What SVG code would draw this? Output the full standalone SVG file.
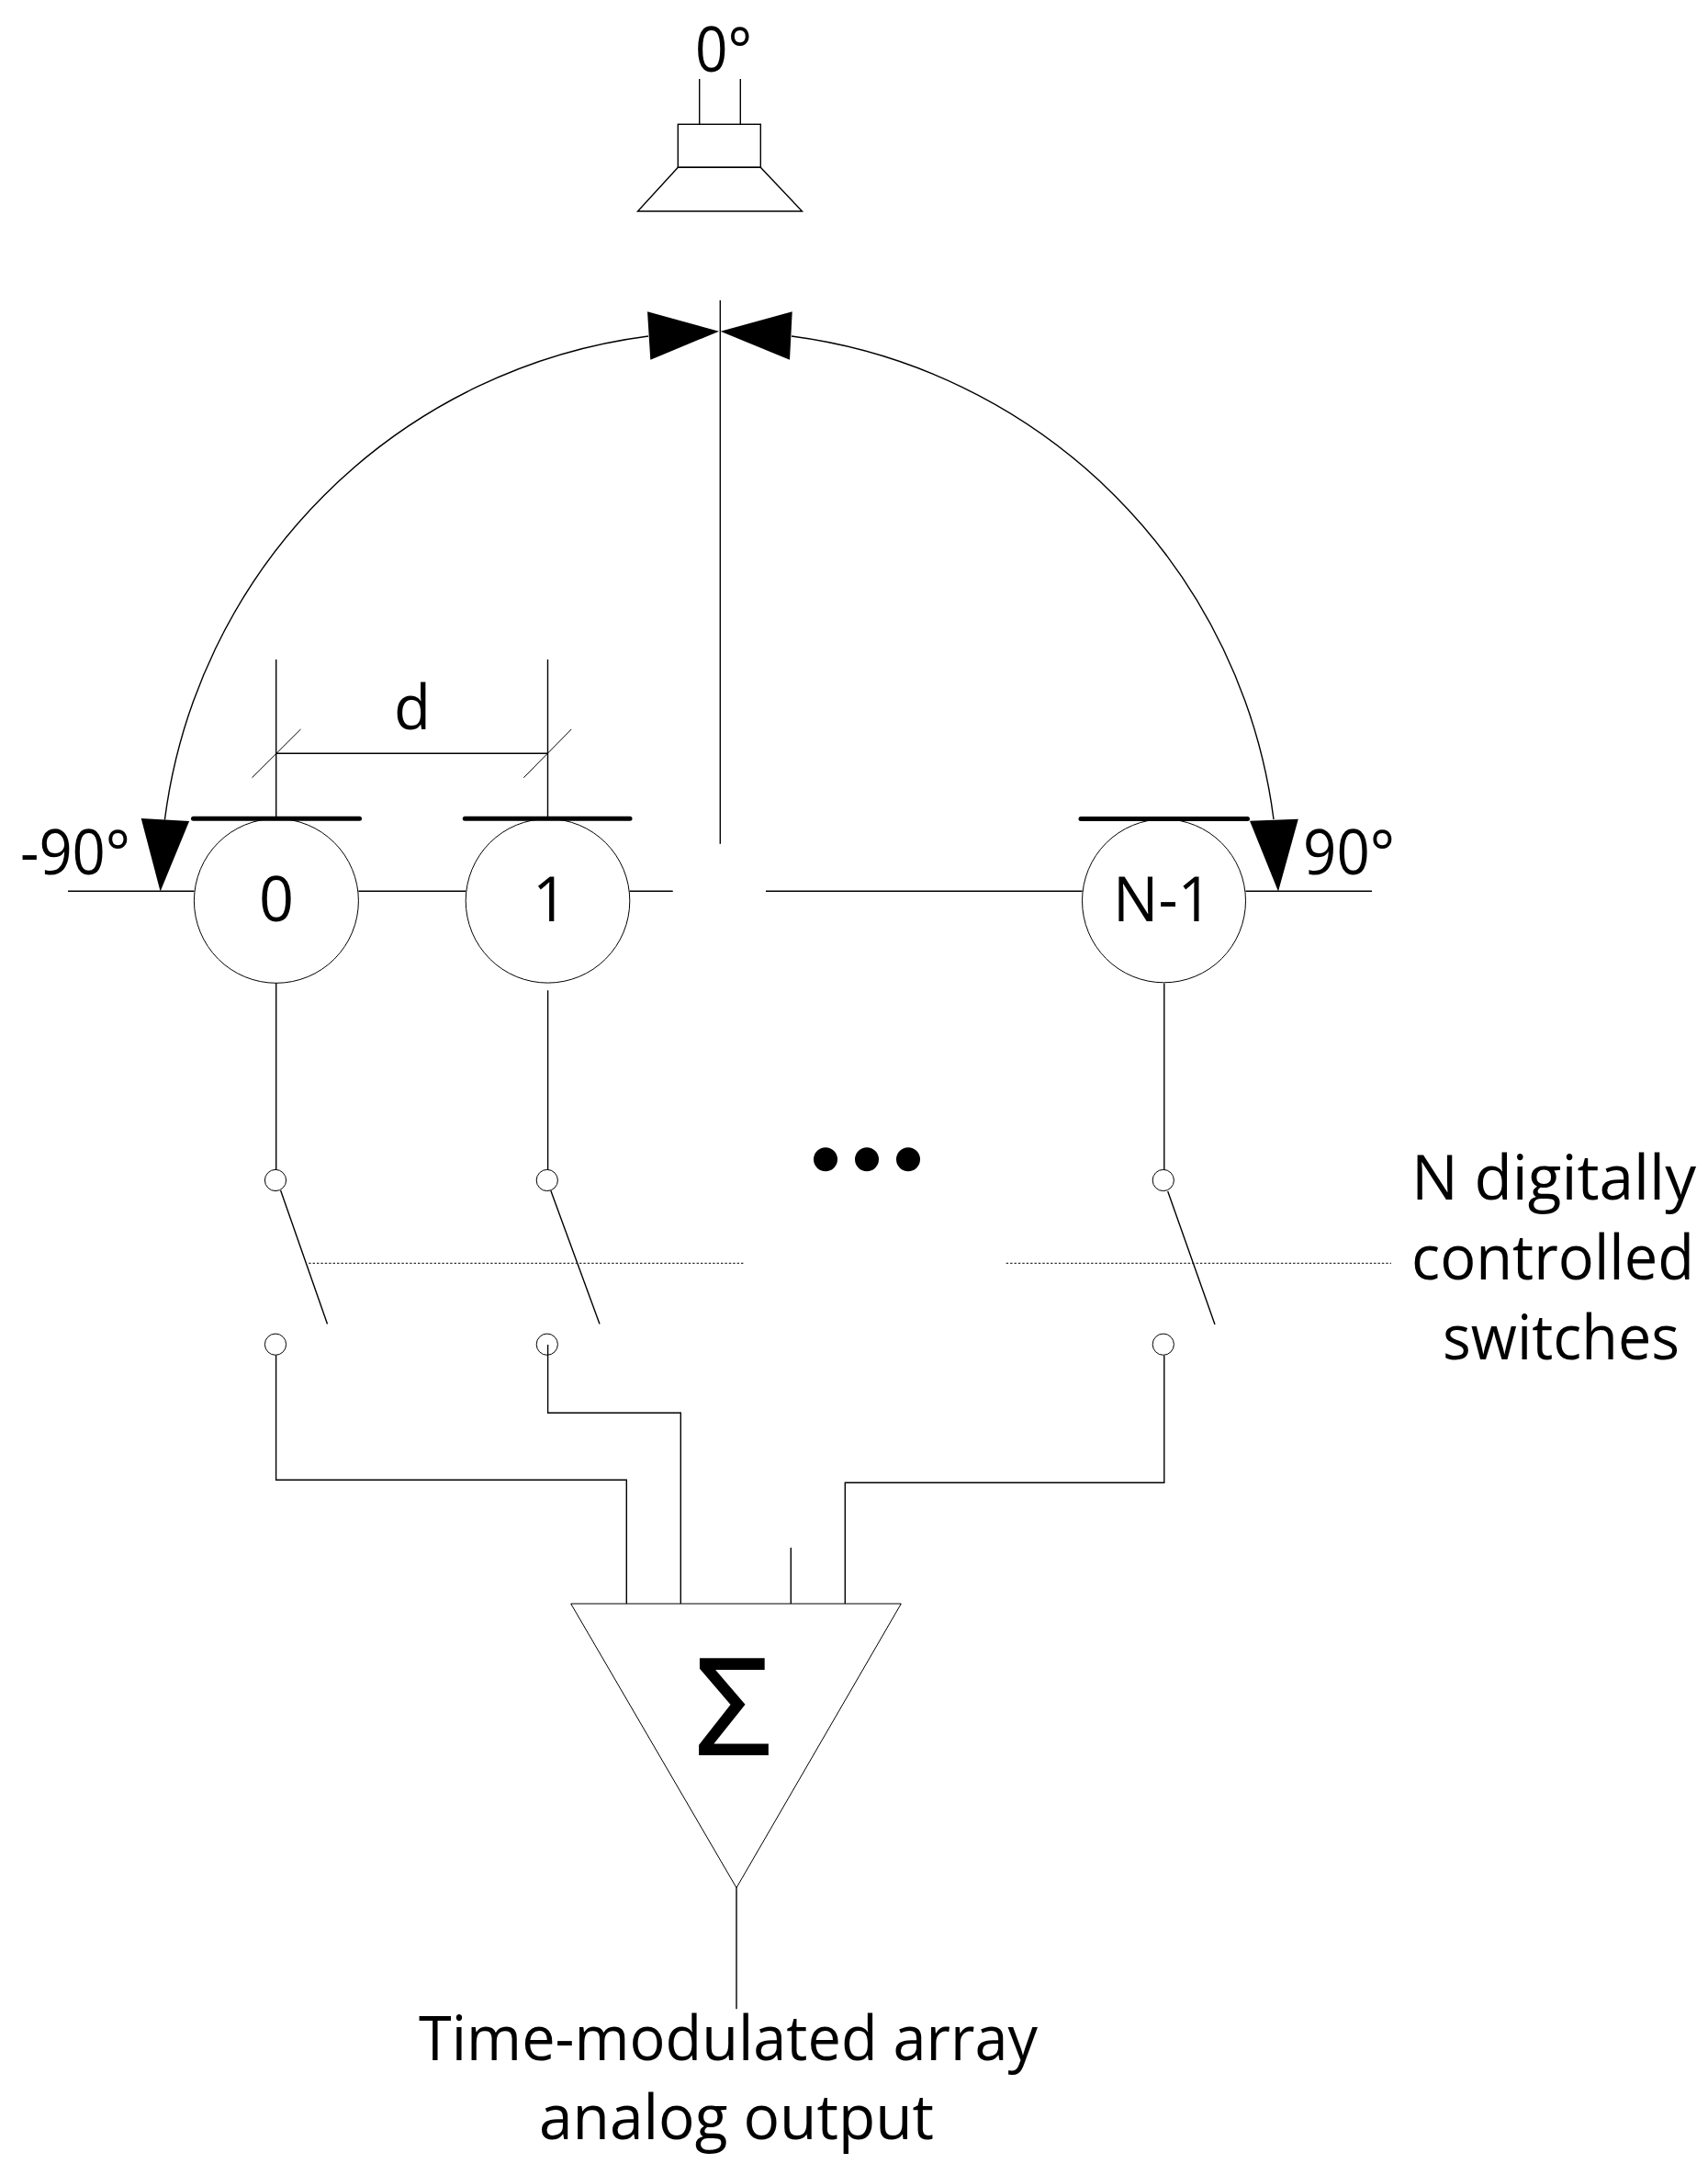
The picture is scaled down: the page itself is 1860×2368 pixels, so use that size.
<svg xmlns="http://www.w3.org/2000/svg" width="1860" height="2368" viewBox="0 0 1860 2368">
<style>
.w{fill:none;stroke:#000;stroke-width:1.4}
.t{fill:none;stroke:#000;stroke-width:1}
.b{fill:none;stroke:#000;stroke-width:5;stroke-linecap:round}
.d{fill:none;stroke:#000;stroke-width:1;stroke-dasharray:2.4 2}
.k{fill:#000;stroke:none}
text{font-family:"Open Sans","Noto Sans","Liberation Sans",sans-serif;font-size:67px;fill:#000}
.s{font-size:145px;stroke:#000;stroke-width:2}
</style>
<rect width="1860" height="2368" fill="#fff"/>
<g id="connectors">
<path class="w" d="M706 366A609 609 0 0 0 179.4 892.7"/>
<path class="w" d="M862 366A609 609 0 0 1 1387 892"/>
<polygon class="k" points="705,339.3 708.3,391.7 783,360.7"/>
<polygon class="k" points="862.7,339.3 860,391.7 784.6,360.7"/>
<polygon class="k" points="153.7,891 206.1,894 174.6,970.5"/>
<polygon class="k" points="1361,893.8 1413.8,891.7 1392,970.5"/>
<path class="w" d="M784.3 327V918.7"/>
<path class="w" d="M74 970.3H211.4M390.4 970.3H507.3M685.7 970.3H732.7M834 970.3H1178.6M1356.5 970.3H1494"/>
<path class="w" d="M300.7 718V891M596.5 718V891M300.7 820.3H596.5"/>
<path class="t" d="M274.5 846.7L327.4 794M570.3 846.7L622.2 794"/>
<path class="w" d="M300.7 1070V1273.5M596.6 1078.3V1273.5M1267.8 1070.5V1273.5"/>
<path class="w" d="M305.6 1296L356.5 1441.5M599.8 1296.3L653 1441.5M1271.7 1297L1323 1442"/>
<path class="d" d="M336.2 1375.3H810M1095.7 1375.3H1515"/>
<path class="w" d="M300.6 1475.5V1611.3H682.3V1746"/>
<path class="w" d="M596.6 1464V1538.3H741.3V1746"/>
<path class="w" d="M1267.8 1475.7V1614.3H920.3V1746"/>
<path class="w" d="M861.3 1685V1746"/>
<path class="w" d="M802 2055.3V2187.3"/>
</g>
<g id="speaker">
<path class="w" d="M761.7 86V135.3M806.3 86V135.3"/>
<rect class="w" x="738.3" y="135.3" width="90" height="47"/>
<polygon class="w" points="738.3,182.3 828.3,182.3 873.5,230 694.5,230"/>
<text x="757" y="78" textLength="62" lengthAdjust="spacingAndGlyphs">0°</text>
</g>
<g id="element-0">
<circle class="t" cx="300.9" cy="980.8" r="89.5"/>
<path class="b" d="M210.5 891.3H391.5"/>
<text x="282" y="1002.5" textLength="38" lengthAdjust="spacingAndGlyphs">0</text>
</g>
<g id="element-1">
<circle class="t" cx="596.5" cy="980.8" r="89.3"/>
<path class="b" d="M506.3 891.3H686"/>
<text x="580" y="1002.5" textLength="38" lengthAdjust="spacingAndGlyphs">1</text>
</g>
<g id="element-n">
<circle class="t" cx="1267.5" cy="980.8" r="89"/>
<path class="b" d="M1177 891.5H1358.5"/>
<text x="1212" y="1003" textLength="108" lengthAdjust="spacingAndGlyphs">N-1</text>
</g>
<g id="switch-0">
<circle class="t" cx="300" cy="1285" r="11.6"/>
<circle class="t" cx="300" cy="1463.7" r="11.6"/>
</g>
<g id="switch-1">
<circle class="t" cx="595.8" cy="1285" r="11.6"/>
<circle class="t" cx="595.8" cy="1463.7" r="11.6"/>
</g>
<g id="switch-n">
<circle class="t" cx="1266.8" cy="1285" r="11.6"/>
<circle class="t" cx="1266.8" cy="1463.7" r="11.6"/>
</g>
<g id="ellipsis">
<circle class="k" cx="899" cy="1262.3" r="13"/>
<circle class="k" cx="944" cy="1262.3" r="13"/>
<circle class="k" cx="989" cy="1262.3" r="13"/>
</g>
<g id="summer">
<polygon class="t" points="621.7,1746 981.3,1746 802,2055.3"/>
<text class="s" x="757" y="1910">Σ</text>
</g>
<g id="labels">
<text x="429" y="794" textLength="40" lengthAdjust="spacingAndGlyphs">d</text>
<text x="22" y="952" textLength="120" lengthAdjust="spacingAndGlyphs">-90°</text>
<text x="1419" y="952" textLength="100" lengthAdjust="spacingAndGlyphs">90°</text>
<text x="1537" y="1306" textLength="310" lengthAdjust="spacingAndGlyphs">N digitally</text>
<text x="1537" y="1393.3" textLength="308" lengthAdjust="spacingAndGlyphs">controlled</text>
<text x="1571" y="1480" textLength="258" lengthAdjust="spacingAndGlyphs">switches</text>
<text x="456" y="2242.7" textLength="674" lengthAdjust="spacingAndGlyphs">Time-modulated array</text>
<text x="587" y="2329" textLength="430" lengthAdjust="spacingAndGlyphs">analog output</text>
</g>
</svg>
